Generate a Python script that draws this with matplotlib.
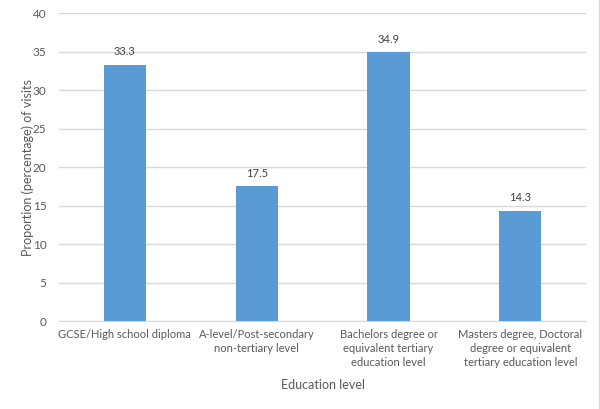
import matplotlib
matplotlib.use("Agg")
import matplotlib.pyplot as plt
from matplotlib.lines import Line2D

categories = ["GCSE/High school diploma",
              "A-level/Post-secondary\nnon-tertiary level",
              "Bachelors degree or\nequivalent tertiary\neducation level",
              "Masters degree, Doctoral\ndegree or equivalent\ntertiary education level"]
values = [33.3, 17.5, 34.9, 14.3]
yticks = [0, 5, 10, 15, 20, 25, 30, 35, 40]

plt.rcParams['font.family'] = ['Lato', 'DejaVu Sans']
txt = '#595959'

fig = plt.figure(figsize=(6, 4.09), dpi=100)
ax = fig.add_axes([0.0983, 0.215, 0.8787, 0.753])
x = list(range(len(categories)))
ax.bar(x, values, width=0.32, color='#5B9BD5', zorder=3)
for xi, v in zip(x, values):
    ax.text(xi, v + 1.0, f"{v:.1f}", ha='center', va='bottom', fontsize=8, color='#404040')
ax.set_xlim(-0.5, 3.5)
ax.set_ylim(0, 40)
ax.set_yticks(yticks)
ax.set_yticklabels([str(t) for t in yticks], fontsize=8.5, color=txt)
ax.set_xticks(x)
ax.set_xticklabels(categories, fontsize=8, color=txt, linespacing=1.3)
ax.tick_params(axis='both', length=0, pad=6)
ax.tick_params(axis='y', pad=9)
ax.grid(axis='y', color='#D9D9D9', linewidth=1, zorder=0)
for s in ['top', 'right', 'left']:
    ax.spines[s].set_visible(False)
ax.spines['bottom'].set_color('#D9D9D9')
ax.set_xlabel("Education level", fontsize=9, color=txt, labelpad=8)
ax.set_ylabel("Proportion (percentage) of visits", fontsize=9, color=txt, labelpad=-1)
fig.add_artist(Line2D([0.9985, 0.9985], [0, 1], transform=fig.transFigure, color='#D9D9D9', linewidth=1))
fig.savefig("out.png", dpi=100)
